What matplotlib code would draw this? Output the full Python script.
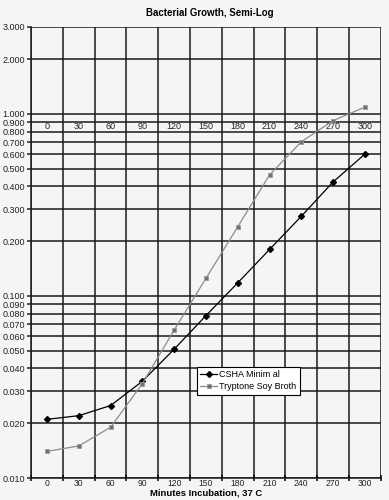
import matplotlib
matplotlib.use("Agg")
import matplotlib.pyplot as plt
from matplotlib.ticker import FixedLocator, FixedFormatter, NullLocator
import matplotlib.transforms as mtransforms

plt.rcParams['font.family'] = ['Liberation Sans', 'DejaVu Sans']

# data
minutes = ["0", "30", "60", "90", "120", "150", "180", "210", "240", "270", "300"]
csha_minimal = [0.021, 0.022, 0.025, 0.034, 0.051, 0.078, 0.118, 0.180, 0.274, 0.423, 0.602]
tryptone_soy = [0.014, 0.015, 0.019, 0.033, 0.065, 0.125, 0.240, 0.462, 0.703, 0.919, 1.089]
y_ticks = [0.01, 0.02, 0.03, 0.04, 0.05, 0.06, 0.07, 0.08, 0.09, 0.1,
           0.2, 0.3, 0.4, 0.5, 0.6, 0.7, 0.8, 0.9, 1.0, 2.0, 3.0]

bg = '#f4f6f6'
fig = plt.figure(figsize=(3.89, 5.0), dpi=100, facecolor=bg)
ax = fig.add_axes([0.080, 0.044, 0.899, 0.902])
ax.set_facecolor(bg)

x = list(range(len(minutes)))
ax.plot(x, csha_minimal, color='black', lw=0.9, marker='D', ms=3,
        mfc='black', mec='black', label='CSHA Minim al', zorder=4)
ax.plot(x, tryptone_soy, color='#8c8c8c', lw=0.9, marker='s', ms=3.5,
        mfc='#707070', mec='#9a9a9a', mew=0.6, label='Tryptone Soy Broth', zorder=4)

ax.set_yscale('log')
ax.set_ylim(0.01, 3.0)
ax.set_xlim(-0.5, len(minutes) - 0.5)

ax.yaxis.set_major_locator(FixedLocator(y_ticks))
ax.yaxis.set_major_formatter(FixedFormatter(['%.3f' % v for v in y_ticks]))
ax.yaxis.set_minor_locator(NullLocator())
ax.tick_params(axis='y', length=3, width=1.1, labelsize=6.5, colors='#222222', pad=1.5)

ax.set_xticks(x)
ax.set_xticklabels(minutes)
ax.set_xticks([i - 0.5 for i in range(len(minutes) + 1)], minor=True)
ax.tick_params(axis='x', which='major', length=0, labelsize=6.2, colors='#222222', pad=0.5)
ax.tick_params(axis='x', which='minor', length=4, width=1.1, direction='inout')

# grid lines
for v in y_ticks:
    ax.axhline(v, color='#1a1a1a', lw=1.1, zorder=1)
for i in range(len(minutes) + 1):
    ax.axvline(i - 0.5, color='#1a1a1a', lw=1.1, zorder=1)

for s in ['top', 'right']:
    ax.spines[s].set_visible(False)
for s in ['left', 'bottom']:
    ax.spines[s].set_color('#1a1a1a')
    ax.spines[s].set_linewidth(1.1)

# the category labels repeated under the 1.000 line
offset = mtransforms.offset_copy(ax.transData, fig=fig, x=0, y=-5.5, units='points')
for i, m in enumerate(minutes):
    ax.text(i, 1.0, m, ha='center', va='top', fontsize=6.5, color='#222222',
            transform=offset, zorder=3)

ax.set_title('Bacterial Growth, Semi-Log', fontsize=7, fontweight='bold', pad=8, x=0.51)
ax.set_xlabel('Minutes Incubation, 37 C', fontsize=6.8, fontweight='bold', labelpad=0.5)

leg = ax.legend(loc='lower left', bbox_to_anchor=(0.475, 0.185), fontsize=6.5,
                frameon=True, fancybox=False, edgecolor='black', facecolor='white',
                framealpha=1, borderpad=0.35, handlelength=1.8, handletextpad=0.3,
                labelspacing=0.4, borderaxespad=0)
leg.get_frame().set_linewidth(0.8)
leg.set_zorder(5)

fig.savefig('out.png', dpi=100, facecolor=bg)
